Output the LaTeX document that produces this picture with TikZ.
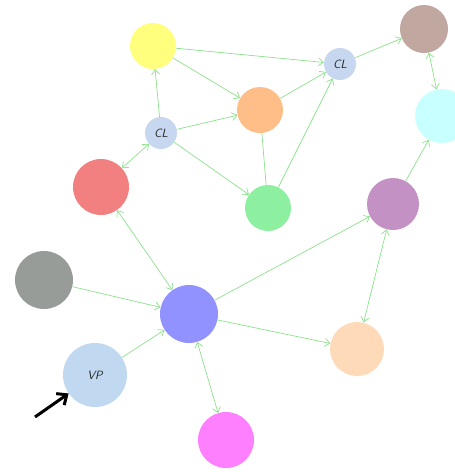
\documentclass[tikz,border=0pt]{standalone}
\usetikzlibrary{arrows.meta}
\definecolor{edgegreen}{RGB}{140,225,140}
\definecolor{cYellow}{RGB}{255,255,125}
\definecolor{cCL}{RGB}{200,215,240}
\definecolor{cOrange}{RGB}{255,190,135}
\definecolor{cBrown}{RGB}{192,168,160}
\definecolor{cCyan}{RGB}{200,255,255}
\definecolor{cRed}{RGB}{242,128,128}
\definecolor{cGreen}{RGB}{140,240,160}
\definecolor{cPurple}{RGB}{195,145,195}
\definecolor{cGray}{RGB}{152,156,152}
\definecolor{cBlue}{RGB}{145,145,255}
\definecolor{cPeach}{RGB}{255,218,185}
\definecolor{cVP}{RGB}{192,216,240}
\definecolor{cMagenta}{RGB}{255,128,255}
\tikzset{
  dot/.style={circle, inner sep=0pt, draw=none, minimum size=#1},
  lbl/.style={font=\sffamily\itshape\large, text=black!85},
  link/.style={draw=edgegreen, line width=0.7pt},
  tip/.style={-{Straight Barb[length=5pt,width=8pt]}},
  tips/.style={{Straight Barb[length=5pt,width=8pt]}-{Straight Barb[length=5pt,width=8pt]}},
}
\begin{document}
\begin{tikzpicture}[x=1pt,y=-1pt]
\useasboundingbox (0,0) rectangle (455,472);
\node[dot=46pt, fill=cYellow] (yellow) at (153,46) {};
\node[dot=32pt, fill=cCL, lbl] (cl1) at (161,133) {CL};
\node[dot=46pt, fill=cOrange] (orange) at (260,110) {};
\node[dot=32pt, fill=cCL, lbl] (cl2) at (340,64) {CL};
\node[dot=48pt, fill=cBrown] (brown) at (424,29) {};
\node[dot=54pt, fill=cCyan] (cyan) at (442,116) {};
\node[dot=56pt, fill=cRed] (red) at (101,187) {};
\node[dot=46pt, fill=cGreen] (green) at (268,208) {};
\node[dot=52pt, fill=cPurple] (purple) at (393,204) {};
\node[dot=58pt, fill=cGray] (gray) at (44,280) {};
\node[dot=58pt, fill=cBlue] (blue) at (189,314) {};
\node[dot=54pt, fill=cPeach] (peach) at (357,349) {};
\node[dot=64pt, fill=cVP, lbl] (vp) at (95,375) {VP};
\node[dot=56pt, fill=cMagenta] (magenta) at (226,440) {};
\coordinate (tail) at (35,417);

\draw[link,tip] (yellow) -- (cl2);
\draw[link,tip] (yellow) -- (orange);
\draw[link,tip] (cl1) -- (yellow);
\draw[link,tip] (cl1) -- (orange);
\draw[link,tips] (red) -- (cl1);
\draw[link,tip] (cl1) -- (green);
\draw[link,tip] (orange) -- (cl2);
\draw[link] (orange) -- (green);
\draw[link,tip] (green) -- (cl2);
\draw[link,tip] (cl2) -- (brown);
\draw[link,tips] (brown) -- (cyan);
\draw[link,tip] (purple) -- (cyan);
\draw[link,tip] (blue) -- (purple);
\draw[link,tips] (purple) -- (peach);
\draw[link,tip] (blue) -- (peach);
\draw[link,tip] (gray) -- (blue);
\draw[link,tip] (vp) -- (blue);
\draw[link,tips] (blue) -- (magenta);
\draw[link,tips] (red) -- (blue);
\draw[line width=3pt, -{Straight Barb[length=8pt,width=14pt]}] (tail) -- (vp);
\end{tikzpicture}
\end{document}
